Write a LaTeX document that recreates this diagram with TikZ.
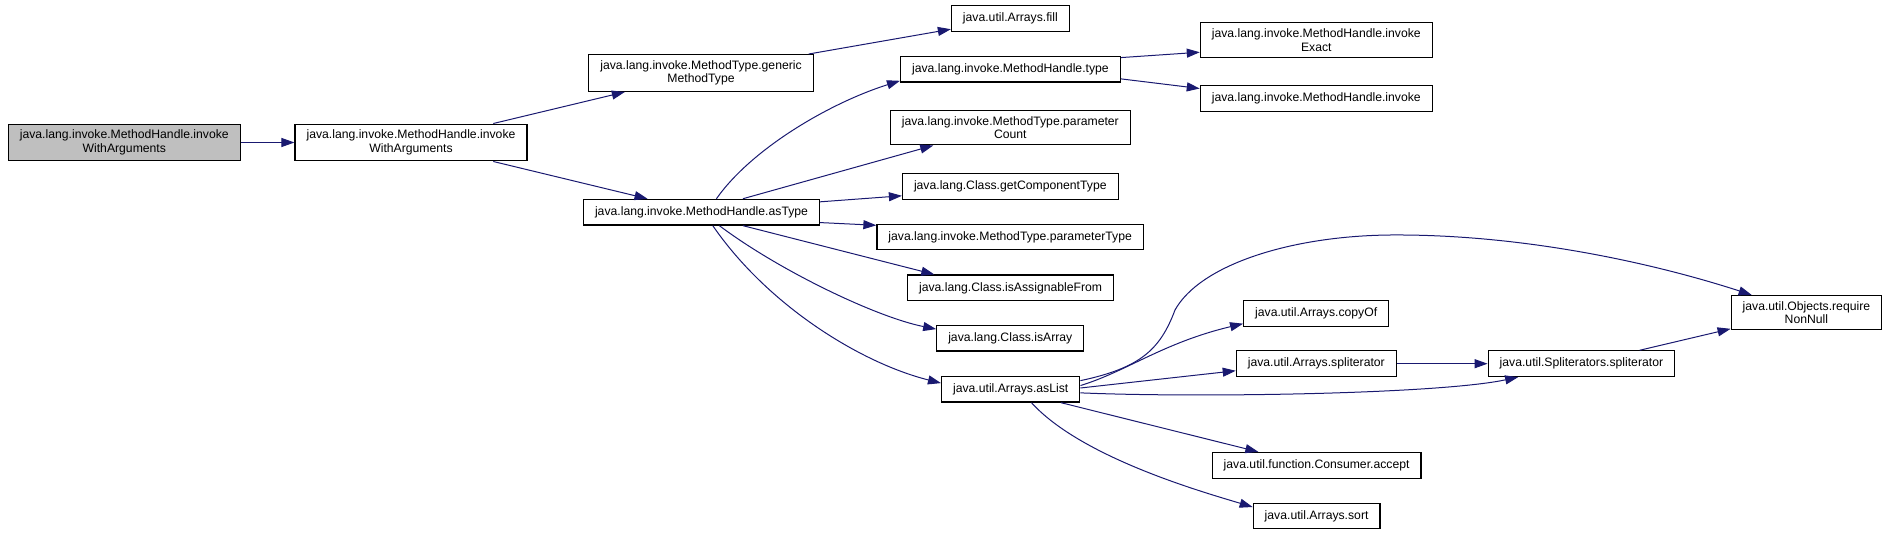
\documentclass[tikz,border=0pt]{standalone}
\usepackage{fontspec}
\setmainfont{Liberation Sans}
\usepackage{xcolor}
\usepackage{tikz}
\usetikzlibrary{arrows.meta}
\definecolor{edge}{HTML}{191970}
\definecolor{hilite}{HTML}{BFBFBF}

\begin{document}
\begin{tikzpicture}[x=1pt,y=-1pt,
  font=\fontsize{12.2}{13.4}\selectfont,
  fn/.style={draw=black,line width=1.2pt,fill=white,inner xsep=11.5pt,inner ysep=6pt,minimum height=25.7pt,align=center},
  cur/.style={fn,fill=hilite},
  arr/.style={-{Triangle[length=13pt,width=9pt]},draw=edge,line width=1pt}]
\useasboundingbox (0,0) rectangle (1891,535);
% caller
\node[cur] (root) at (124.3,142.5) {java.lang.invoke.MethodHandle.invoke\\WithArguments};
\node[fn] (iwa) at (411,142.5) {java.lang.invoke.MethodHandle.invoke\\WithArguments};
% second column
\node[fn] (gmt) at (701,73) {java.lang.invoke.MethodType.generic\\MethodType};
\node[fn] (astype) at (701.5,212.2) {java.lang.invoke.MethodHandle.asType};
% third column
\node[fn] (fill) at (1010.4,18.7) {java.util.Arrays.fill};
\node[fn] (type) at (1010.4,69.2) {java.lang.invoke.MethodHandle.type};
\node[fn] (pcount) at (1010.3,127.7) {java.lang.invoke.MethodType.parameter\\Count};
\node[fn] (comptype) at (1010.3,186.3) {java.lang.Class.getComponentType};
\node[fn] (ptype) at (1010.2,237) {java.lang.invoke.MethodType.parameterType};
\node[fn] (assign) at (1010.6,287.9) {java.lang.Class.isAssignableFrom};
\node[fn] (isarray) at (1010.3,338.2) {java.lang.Class.isArray};
\node[fn] (aslist) at (1010.7,389.2) {java.util.Arrays.asList};
% fourth column
\node[fn] (exact) at (1316.3,40) {java.lang.invoke.MethodHandle.invoke\\Exact};
\node[fn] (invoke) at (1316.3,98.7) {java.lang.invoke.MethodHandle.invoke};
\node[fn] (copyof) at (1316.2,313.4) {java.util.Arrays.copyOf};
\node[fn] (aspl) at (1316.3,363.7) {java.util.Arrays.spliterator};
\node[fn] (accept) at (1316.6,465.3) {java.util.function.Consumer.accept};
\node[fn] (sort) at (1316.6,516) {java.util.Arrays.sort};
% right side
\node[fn] (sspl) at (1581.4,363.7) {java.util.Spliterators.spliterator};
\node[fn] (nonnull) at (1806.4,312.7) {java.util.Objects.require\\NonNull};
% calls
\draw[arr] (root) -- (iwa);
\draw[arr] (iwa.13) -- (gmt.194);
\draw[arr] (iwa.-13) -- (astype.166);
\draw[arr] (gmt.10) -- (fill.190);
\draw[arr] (astype.42) .. controls +(35,-50) and +(-70,22) .. (type.186);
\draw[arr] (astype.18) -- (pcount.193);
\draw[arr] (astype.5) -- (comptype.185);
\draw[arr] (astype.-5) -- (ptype.175);
\draw[arr] (astype.-18) -- (assign.170);
\draw[arr] (astype.-37) .. controls +(60,45) and +(-60,-12) .. (isarray.173);
\draw[arr] (astype.-50) .. controls +(55,80) and +(-80,-20) .. (aslist.175);
\draw[arr] (type.6) -- (exact.186);
\draw[arr] (type.-5) -- (invoke.175);
\draw[arr] (aslist.7) .. controls (1140,368) and (1160,350) .. (1175,310)
  .. controls (1200,265) and (1290,236) .. (1390,235)
  .. controls (1520,234) and (1650,262) .. (nonnull.162);
\draw[arr] (aslist.3) .. controls +(46,-14) and +(-80,19) .. (copyof.188);
\draw[arr] (aslist.1) -- (aspl.185);
\draw[arr] (aslist.-3) .. controls +(116,5) and +(-80,17) .. (sspl.192);
\draw[arr] (aslist.-15) -- (accept.167);
\draw[arr] (aslist.-33) .. controls +(50,55) and +(-50,-15) .. (sort.172);
\draw[arr] (aspl) -- (sspl);
\draw[arr] (sspl.13) -- (nonnull.192);
\end{tikzpicture}
\end{document}
